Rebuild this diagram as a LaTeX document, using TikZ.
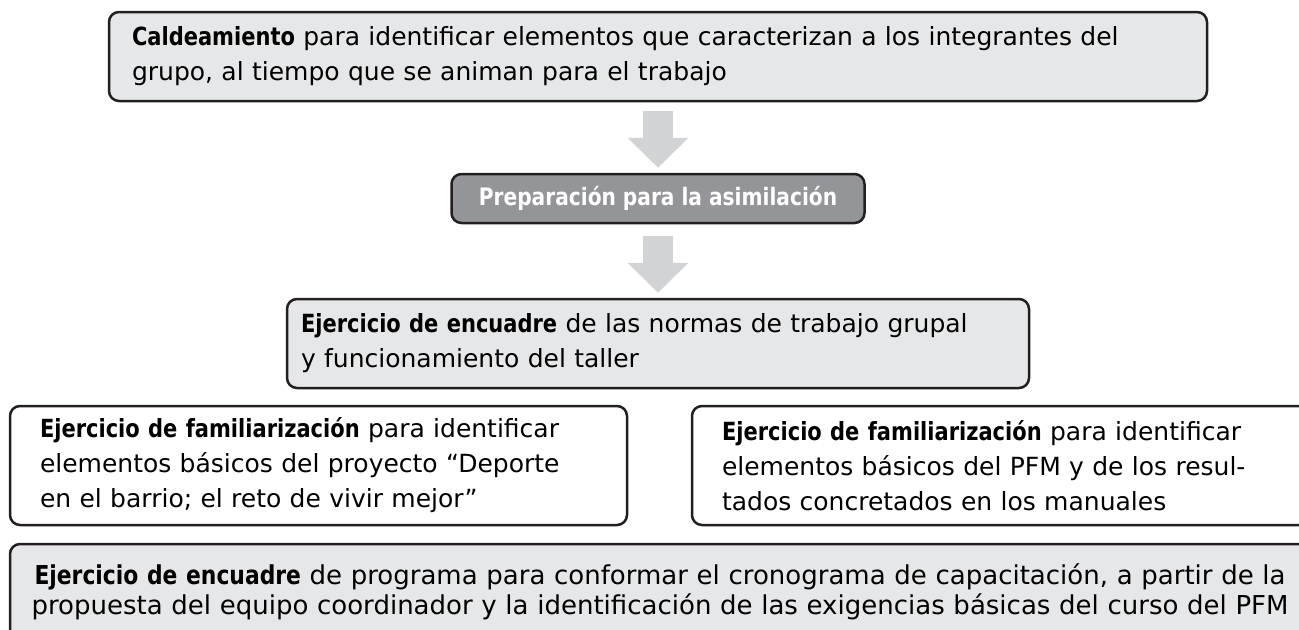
\documentclass[tikz,border=0pt]{standalone}
\usepackage{fontspec}
\setmainfont{DejaVu Sans}
\newfontfamily\hdfont{DejaVu Sans Bold}[FakeStretch=0.84]
\newcommand{\hd}[1]{{\hdfont #1}}
\usetikzlibrary{arrows.meta}
\definecolor{boxgray}{HTML}{E6E7E8}
\definecolor{midgray}{HTML}{939598}
\definecolor{arrowgray}{HTML}{D1D3D4}
\definecolor{linegray}{HTML}{231F20}

\begin{document}
\begin{tikzpicture}[x=0.5pt, y=-0.5pt, thick, font=\fontsize{12.5}{17.5}\selectfont]
				\tikzstyle{box}=[draw=linegray, line width=1.25pt, rounded corners=5pt, fill=boxgray, inner ysep=0pt, align=left, text=black]
				\tikzstyle{whitebox}=[box, fill=white, inner xsep=15pt, text width=278.5pt, minimum height=59.5pt]
				\tikzstyle{darkbox}=[box, fill=midgray, text=white, align=center, font=\fontsize{12}{17}\selectfont\hdfont]
				\tikzstyle{blockarrow}=[draw=arrowgray, line width=15pt, -{Triangle[width=29.5pt, length=15pt]}, shorten <=4.5pt, shorten >=2.5pt]
				
				\path[use as bounding box, clip] (0, 0) rectangle (1299, 629);
				
				\node[box, inner xsep=11.5pt, text width=526pt, minimum height=44.5pt] at (658, 56.5) (cald) {\hd{Caldeamiento} para identificar elementos que caracterizan a los integrantes del\\grupo, al tiempo que se animan para el trabajo};
				\node[darkbox, minimum width=206.5pt, minimum height=24.5pt] at (658, 198.5) (prep) {Preparación para la asimilación};
				\node[box, inner xsep=7pt, text width=357pt, minimum height=44.5pt] at (658, 343.5) (normas) {\hd{Ejercicio de encuadre} de las normas de trabajo grupal\\y funcionamiento del taller};
				\node[whitebox] at (318.5, 465.5) (proyecto) {\hd{Ejercicio de familiarización} para identificar\\elementos básicos del proyecto “Deporte\\en el barrio; el reto de vivir mejor”};
				\node[whitebox] at (1000.5, 465.5) (pfm) {\hd{Ejercicio de familiarización} para identificar\\elementos básicos del PFM y de los resul-\\tados concretados en los manuales};
				\node[box, inner xsep=5pt, text width=640pt, minimum height=48pt, align=center, font=\fontsize{13}{15}\selectfont] at (660, 592) (programa) {\hd{Ejercicio de encuadre} de programa para conformar el cronograma de capacitación, a partir de la\\propuesta del equipo coordinador y la identificación de las exigencias básicas del curso del PFM};
				
				\path
				(cald) edge[blockarrow] (prep)
				(prep) edge[blockarrow, shorten <=6pt] (normas);
		  \end{tikzpicture}
\end{document}
